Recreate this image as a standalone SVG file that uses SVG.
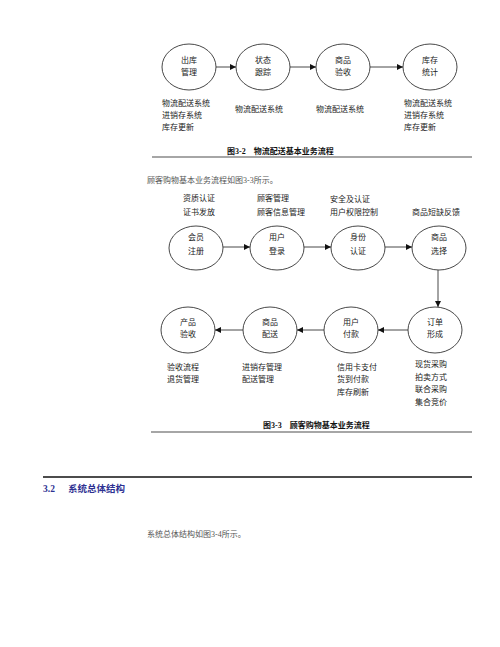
<svg xmlns="http://www.w3.org/2000/svg" width="500" height="647" viewBox="0 0 500 647">
<defs>
<style>
.n ellipse{fill:#fff;stroke:#333;stroke-width:0.9}
.lbl{font-family:"Noto Sans CJK SC","Noto Sans",sans-serif;font-size:8px;fill:#222}
.c{text-anchor:middle}
.cap{font-family:"Liberation Serif","Noto Sans CJK SC",serif;font-size:8px;font-weight:bold;fill:#111}
.body{font-family:"Liberation Serif","Noto Sans CJK SC",serif;font-size:8px;fill:#555}
.edge{stroke:#333;stroke-width:0.9;fill:none;marker-end:url(#ah)}
.rule{stroke:#888;stroke-width:1.5}
.hd{font-family:"Liberation Serif","Noto Sans CJK SC",serif;font-size:9.5px;font-weight:bold;fill:#2e3192}
</style>
<marker id="ah" viewBox="0 0 10 10" refX="10" refY="5" markerWidth="7" markerHeight="6" markerUnits="userSpaceOnUse" orient="auto">
<path d="M0,0 L10,5 L0,10 z" fill="#111"/>
</marker>
</defs>
<rect width="500" height="647" fill="#fff"/>

<!-- Figure 3-2 -->
<g id="n-chuku" class="n"><ellipse cx="189" cy="67" rx="27" ry="23"/>
<text class="lbl c" x="189" y="63">出库</text><text class="lbl c" x="189" y="75">管理</text></g>
<g id="n-zhuangtai" class="n"><ellipse cx="263" cy="67" rx="27" ry="23"/>
<text class="lbl c" x="263" y="63">状态</text><text class="lbl c" x="263" y="75">跟踪</text></g>
<g id="n-shangpin1" class="n"><ellipse cx="343" cy="67" rx="27" ry="23"/>
<text class="lbl c" x="343" y="63">商品</text><text class="lbl c" x="343" y="75">验收</text></g>
<g id="n-kucun" class="n"><ellipse cx="430" cy="67" rx="27" ry="23"/>
<text class="lbl c" x="430" y="63">库存</text><text class="lbl c" x="430" y="75">统计</text></g>

<g class="lbl">
<text x="162" y="106">物流配送系统</text><text x="162" y="118">进销存系统</text><text x="162" y="130">库存更新</text>
<text x="235" y="112">物流配送系统</text>
<text x="316" y="112">物流配送系统</text>
<text x="404" y="106">物流配送系统</text><text x="404" y="118">进销存系统</text><text x="404" y="130">库存更新</text>
</g>
<text class="cap" x="227" y="153.5">图3-2　物流配送基本业务流程</text>
<line class="rule" x1="152" y1="157" x2="472" y2="157"/>

<text class="body" x="147" y="183">顾客购物基本业务流程如图3-3所示。</text>

<!-- Figure 3-3 -->
<g class="lbl">
<text x="183" y="201">资质认证</text><text x="183" y="215">证书发放</text>
<text x="257" y="201">顾客管理</text><text x="257" y="215">顾客信息管理</text>
<text x="330" y="202">安全及认证</text><text x="330" y="215">用户权限控制</text>
<text x="412" y="215">商品短缺反馈</text>
</g>

<g id="n-huiyuan" class="n"><ellipse cx="196" cy="248" rx="27" ry="22"/>
<text class="lbl c" x="196" y="240">会员</text><text class="lbl c" x="196" y="254">注册</text></g>
<g id="n-denglu" class="n"><ellipse cx="277" cy="248" rx="27" ry="22"/>
<text class="lbl c" x="277" y="240">用户</text><text class="lbl c" x="277" y="254">登录</text></g>
<g id="n-shenfen" class="n"><ellipse cx="358" cy="248" rx="27" ry="22"/>
<text class="lbl c" x="358" y="240">身份</text><text class="lbl c" x="358" y="254">认证</text></g>
<g id="n-xuanze" class="n"><ellipse cx="439" cy="248" rx="27" ry="22"/>
<text class="lbl c" x="439" y="240">商品</text><text class="lbl c" x="439" y="254">选择</text></g>

<g id="n-chanpin" class="n"><ellipse cx="188" cy="330" rx="27" ry="23"/>
<text class="lbl c" x="188" y="325">产品</text><text class="lbl c" x="188" y="337">验收</text></g>
<g id="n-peisong" class="n"><ellipse cx="270" cy="330" rx="27" ry="23"/>
<text class="lbl c" x="270" y="325">商品</text><text class="lbl c" x="270" y="337">配送</text></g>
<g id="n-fukuan" class="n"><ellipse cx="351" cy="330" rx="27" ry="23"/>
<text class="lbl c" x="351" y="325">用户</text><text class="lbl c" x="351" y="337">付款</text></g>
<g id="n-dingdan" class="n"><ellipse cx="435" cy="330" rx="27" ry="23"/>
<text class="lbl c" x="435" y="325">订单</text><text class="lbl c" x="435" y="337">形成</text></g>

<g class="lbl">
<text x="167" y="370">验收流程</text><text x="167" y="382">退货管理</text>
<text x="242" y="370">进销存管理</text><text x="242" y="382">配送管理</text>
<text x="337" y="370">信用卡支付</text><text x="337" y="382">货到付款</text><text x="337" y="395">库存刷新</text>
<text x="415" y="367">现货采购</text><text x="415" y="380">拍卖方式</text><text x="415" y="392">联合采购</text><text x="415" y="405">集合竞价</text>
</g>
<text class="cap" x="263" y="428">图3-3　顾客购物基本业务流程</text>
<line class="rule" x1="151" y1="432" x2="472" y2="432"/>

<g id="connectors">
<line class="edge" x1="216" y1="67" x2="236" y2="67"/>
<line class="edge" x1="290" y1="67" x2="316" y2="67"/>
<line class="edge" x1="370" y1="67" x2="403" y2="67"/>
<line class="edge" x1="223" y1="247" x2="250" y2="247"/>
<line class="edge" x1="304" y1="247" x2="331" y2="247"/>
<line class="edge" x1="385" y1="247" x2="412" y2="247"/>
<line class="edge" x1="438" y1="270" x2="438" y2="307"/>
<line class="edge" x1="408" y1="330" x2="378" y2="330"/>
<line class="edge" x1="324" y1="330" x2="297" y2="330"/>
<line class="edge" x1="243" y1="330" x2="215" y2="330"/>
</g>

<line x1="43" y1="477" x2="472" y2="477" stroke="#111" stroke-width="1.5"/>
<text class="hd" x="43" y="491.5">3.2</text>
<text class="hd" x="68" y="491.5">系统总体结构</text>
<text class="body" x="147" y="537">系统总体结构如图3-4所示。</text>
</svg>
